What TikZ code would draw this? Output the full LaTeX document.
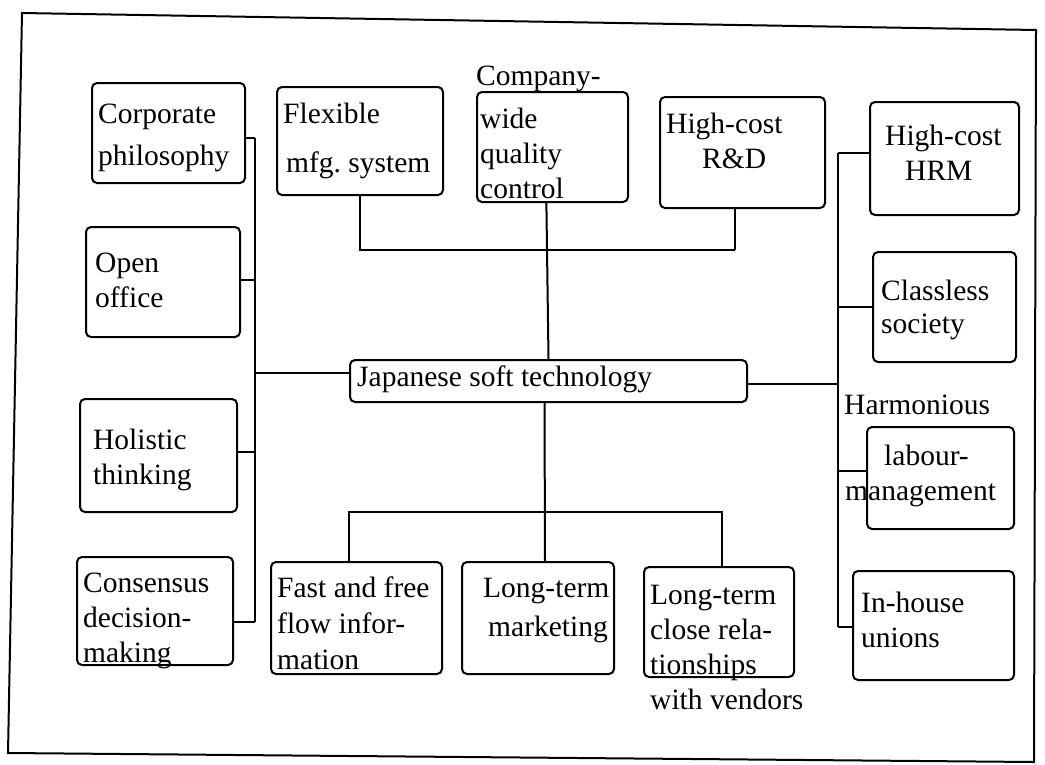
\documentclass[tikz,border=0pt]{standalone}
\usepackage{fontspec}
\setmainfont{Liberation Serif}
\usetikzlibrary{calc}
\frenchspacing
% multi-line label: first argument is the line spacing, second the rows
\newcommand\boxlines[2]{{\fontsize{29.5}{#1}\selectfont\begin{tabular}[t]{@{}l@{}}#2\end{tabular}}}
\begin{document}
\begin{tikzpicture}[x=1pt,y=-1pt,
  bx/.style={draw, line width=2pt, rounded corners=5pt, inner sep=0pt},
  txt/.style={anchor=base west, inner sep=0pt, font=\fontsize{29.5}{35}\selectfont},
  conn/.style={line width=2pt},
  frame/.style={line width=2pt, line join=miter}]
\useasboundingbox (0,0) rectangle (1045,764);

% outer frame
\draw[frame] (22,13) -- (1036,30) -- (1034,762) -- (8,753) -- cycle;

% boxes
\node[bx, minimum width=153pt, minimum height=100pt] (corp) at (168.5,133) {};
\node[bx, minimum width=166pt, minimum height=108pt] (flex) at (360,141) {};
\node[bx, minimum width=151pt, minimum height=110pt] (cwq)  at (552.5,147) {};
\node[bx, minimum width=165pt, minimum height=111pt] (rd)   at (742.5,152.5) {};
\node[bx, minimum width=149pt, minimum height=113pt] (hrm)  at (944.5,158.5) {};
\node[bx, minimum width=143pt, minimum height=110pt] (cls)  at (944.5,307) {};
\node[bx, minimum width=154pt, minimum height=110pt] (open) at (163,282) {};
\node[bx, minimum width=397pt, minimum height=42pt]  (jst)  at (548.5,381) {};
\node[bx, minimum width=157pt, minimum height=113pt] (hol)  at (158.5,455.5) {};
\node[bx, minimum width=156pt, minimum height=108pt] (con)  at (155,611) {};
\node[bx, minimum width=171pt, minimum height=112pt] (fast) at (356.5,618) {};
\node[bx, minimum width=152pt, minimum height=112pt] (mkt)  at (538,618) {};
\node[bx, minimum width=150pt, minimum height=110pt] (ltc)  at (719,622) {};
\node[bx, minimum width=147pt, minimum height=102pt] (lab)  at (940.5,478) {};
\node[bx, minimum width=161pt, minimum height=109pt] (inh)  at (933.5,625.5) {};

% labels
\node[txt] (t-corp) at (98,123)  {\boxlines{42}{Corporate\\philosophy}};
\node[txt] (t-flex) at (283,123) {\boxlines{49}{Flexible\\\hspace{3pt}mfg. system}};
\node[txt] (t-comp) at (476,85)  {Company-};
\node[txt] (t-cwq)  at (480,128) {\boxlines{35}{wide\\quality\\control}};
\node[txt] (t-rd)   at (666,133) {\boxlines{35}{High-cost\\\hspace{36pt}R\&D}};
\node[txt] (t-hrm)  at (885,145) {\boxlines{35}{High-cost\\\hspace{20pt}HRM}};
\node[txt] (t-cls)  at (881,300) {\boxlines{33}{Classless\\society}};
\node[txt] (t-open) at (95,272)  {\boxlines{35}{Open\\office}};
\node[txt] (t-jst)  at (357,386) {Japanese soft technology};
\node[txt] (t-harm) at (844,414) {Harmonious};
\node[txt] (t-lab)  at (845,465) {\boxlines{35}{\hspace{39pt}labour-\\management}};
\node[txt] (t-inh)  at (861,612) {\boxlines{35}{In-house\\unions}};
\node[txt] (t-hol)  at (93,449)  {\boxlines{35}{Holistic\\thinking}};
\node[txt] (t-con)  at (83,592)  {\boxlines{35}{Consensus\\decision-\\making}};
\node[txt] (t-fast) at (277,597) {\boxlines{36}{Fast and free\\flow infor-\\mation}};
\node[txt] (t-mkt)  at (483,597) {\boxlines{39}{Long-term\\\hspace{5pt}marketing}};
\node[txt] (t-ltc)  at (650,604) {\boxlines{35}{Long-term\\close rela-\\tionships\\with vendors}};

% left spine
\coordinate (lCorp) at (255,138);
\coordinate (lOpen) at (255,280);
\coordinate (lJst)  at (255,373);
\coordinate (lHol)  at (255,452);
\coordinate (lCon)  at (255,622);
\draw[conn] (lCorp) -- (lCon);
\draw[conn] (corp.east |- lCorp) -- (lCorp);
\draw[conn] (open.east |- lOpen) -- (lOpen);
\draw[conn] (jst.west |- lJst) -- (lJst);
\draw[conn] (hol.east |- lHol) -- (lHol);
\draw[conn] (con.east |- lCon) -- (lCon);

% top bar
\coordinate (tFlex) at (360,250);
\coordinate (tRd)   at (735,250);
\draw[conn] (flex.south) -- (tFlex) -- (tRd);
\draw[conn] (rd.south -| tRd) -- (tRd);
\draw[conn] ($(cwq.south west)!0.46!(cwq.south east)$) -- ($(jst.north west)!0.5!(jst.north east)$);

% right spine
\coordinate (rHrm) at (838,153);
\coordinate (rCls) at (838,307);
\coordinate (rJst) at (838,384);
\coordinate (rLab) at (838,471);
\coordinate (rInh) at (838,627);
\draw[conn] (rHrm) -- (rInh);
\draw[conn] (rHrm) -- (hrm.west |- rHrm);
\draw[conn] (rCls) -- (cls.west |- rCls);
\draw[conn] (jst.east |- rJst) -- (rJst);
\draw[conn] (rLab) -- (lab.west |- rLab);
\draw[conn] (rInh) -- (inh.west |- rInh);

% bottom bar
\coordinate (bFast) at (349,512);
\coordinate (bLtc)  at (722,512);
\draw[conn] ($(jst.south west)!0.49!(jst.south east)$) -- (mkt.north -| 545,0);
\draw[conn] (fast.north -| bFast) -- (bFast) -- (bLtc) -- (ltc.north -| bLtc);
\end{tikzpicture}
\end{document}
